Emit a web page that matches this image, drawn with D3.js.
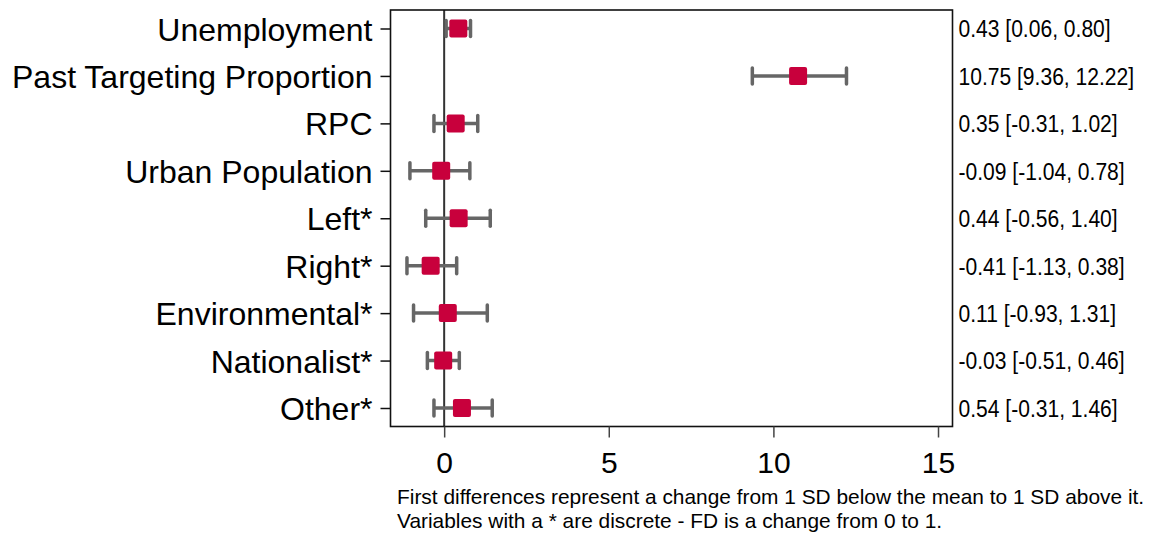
<!DOCTYPE html>
<html>
<head>
<meta charset="utf-8">
<script src="https://cdn.jsdelivr.net/npm/d3@7"></script>
<style>
  body { margin: 0; background: #fff; }
  text { font-family: "Liberation Sans", Arial, sans-serif; }
</style>
</head>
<body>
<script>
const width = 1150;
const height = 533;

// data
const categories = ["Unemployment", "Past Targeting Proportion", "RPC", "Urban Population",
  "Left*", "Right*", "Environmental*", "Nationalist*", "Other*"];
const estimates = [0.43, 10.75, 0.35, -0.09, 0.44, -0.41, 0.11, -0.03, 0.54];
const lower = [0.06, 9.36, -0.31, -1.04, -0.56, -1.13, -0.93, -0.51, -0.31];
const upper = [0.80, 12.22, 1.02, 0.78, 1.40, 0.38, 1.31, 0.46, 1.46];
const xTicks = [0, 5, 10, 15];
const notes = ["First differences represent a change from 1 SD below the mean to 1 SD above it.",
  "Variables with a * are discrete - FD is a change from 0 to 1."];

const rows = categories.map((c, i) => ({ name: c, est: estimates[i], lo: lower[i], hi: upper[i] }));

// frame
const fL = 390.5, fR = 952.5, fT = 10, fB = 426.5;

const svg = d3.select("body").append("svg")
  .attr("width", width)
  .attr("height", height);

const x = d3.scaleLinear().domain([-1.63, 15.44]).range([fL, fR]);
const y = d3.scalePoint().domain(categories).range([fT, fB]).padding(0.39);

// zero line
svg.append("line")
  .attr("x1", x(0)).attr("x2", x(0))
  .attr("y1", fT).attr("y2", fB)
  .attr("stroke", "#333").attr("stroke-width", 2);

// frame
svg.append("rect")
  .attr("x", fL).attr("y", fT)
  .attr("width", fR - fL).attr("height", fB - fT)
  .attr("fill", "none").attr("stroke", "#111").attr("stroke-width", 1.6);

// y axis (category labels)
const yAxis = d3.axisLeft(y).tickSize(10).tickPadding(8);
const gy = svg.append("g").attr("transform", `translate(${fL},0)`).call(yAxis);
gy.select(".domain").remove();
gy.selectAll(".tick line").attr("stroke", "#111").attr("stroke-width", 1.5);
gy.selectAll(".tick text")
  .attr("fill", "#000")
  .style("font-size", "32px")
  .attr("dy", "0.36em");

// x axis
const xAxis = d3.axisBottom(x).tickValues(xTicks).tickSize(11).tickPadding(6);
const gx = svg.append("g").attr("transform", `translate(0,${fB})`).call(xAxis);
gx.select(".domain").remove();
gx.selectAll(".tick line").attr("stroke", "#444").attr("stroke-width", 1.5);
gx.selectAll(".tick text")
  .attr("fill", "#000")
  .style("font-size", "30px")
  .attr("dy", "0.97em");

// error bars
const bars = svg.append("g").selectAll("g").data(rows).join("g");
bars.append("line")
  .attr("x1", d => x(d.lo)).attr("x2", d => x(d.hi))
  .attr("y1", d => y(d.name)).attr("y2", d => y(d.name))
  .attr("stroke", "#666").attr("stroke-width", 3.5);
[d => x(d.lo), d => x(d.hi)].forEach(fx => {
  bars.append("line")
    .attr("x1", fx).attr("x2", fx)
    .attr("y1", d => y(d.name) - 8).attr("y2", d => y(d.name) + 8)
    .attr("stroke", "#666").attr("stroke-width", 3.5)
    .attr("stroke-linecap", "round");
});

// markers
const ms = 18;
bars.append("rect")
  .attr("x", d => x(d.est) - ms / 2)
  .attr("y", d => y(d.name) - ms / 2)
  .attr("width", ms).attr("height", ms)
  .attr("rx", 2)
  .attr("fill", "#c8003c");

// right labels (plain hyphen for minus, as in the original)
const fmt = d3.formatLocale({ decimal: ".", thousands: ",", grouping: [3], currency: ["", ""], minus: "-" }).format(".2f");
svg.append("g").selectAll("text").data(rows).join("text")
  .attr("transform", d => `translate(${fR + 6},${y(d.name)}) scale(0.86,1)`)
  .attr("dy", "0.36em")
  .style("font-size", "24.5px")
  .attr("fill", "#000")
  .text(d => `${fmt(d.est)} [${fmt(d.lo)}, ${fmt(d.hi)}]`);

// notes
svg.append("g").selectAll("text").data(notes).join("text")
  .attr("transform", (d, i) => `translate(397,${503.5 + i * 24.3}) scale(1.045,1)`)
  .style("font-size", "20px")
  .attr("fill", "#000")
  .text(d => d);
</script>
</body>
</html>
